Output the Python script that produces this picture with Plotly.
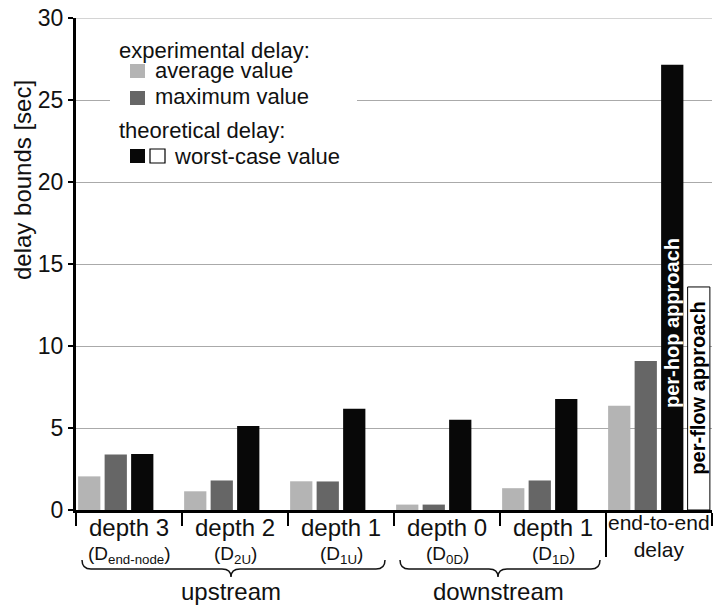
import plotly.graph_objects as go

# categories (one group of bars each)
cats = ["d3_up", "d2_up", "d1_up", "d0_down", "d1_down", "e2e"]
label_top = ["depth 3", "depth 2", "depth 1", "depth 0", "depth 1", ""]
label_sub = ["(D<sub>end-node</sub>)", "(D<sub>2U</sub>)", "(D<sub>1U</sub>)",
             "(D<sub>0D</sub>)", "(D<sub>1D</sub>)", ""]

# delay bounds [sec]
avg_delay = [2.05, 1.14, 1.75, 0.33, 1.33, 6.35]
max_delay = [3.38, 1.80, 1.74, 0.33, 1.80, 9.08]
worst_hop = [3.41, 5.12, 6.18, 5.50, 6.77, 27.15]
worst_flow = [None, None, None, None, None, 13.6]
y_ticks = [0, 5, 10, 15, 20, 25, 30]

FONT = "Liberation Sans, Arial, sans-serif"

# page has an 8px body margin, so shrink the figure to fit the window
OFF = 8
W, H = 723 - OFF, 607 - OFF
# plot area in window pixels
L, R, T, B = 76, 712, 18, 510
def px(x):
    return (x - L) / (R - L)
def py(y):
    return (B - y) / (B - T)

fig = go.Figure()
fig.add_trace(go.Bar(x=cats, y=avg_delay, marker_color="#b4b4b4", marker_line_width=0))
fig.add_trace(go.Bar(x=cats, y=max_delay, marker_color="#666666", marker_line_width=0))
fig.add_trace(go.Bar(x=cats, y=worst_hop, marker_color="#080808", marker_line_width=0))
fig.add_trace(go.Bar(x=cats, y=worst_flow, marker_color="white",
                     marker_line=dict(color="black", width=1)))

annotations = []
shapes = []

def note(x, y, text, size, xref="paper", yref="paper", xanchor="center", **kw):
    d = dict(x=x, y=y, xref=xref, yref=yref, text=text, showarrow=False,
             xanchor=xanchor, yanchor="middle", font=dict(size=size, color="#111"))
    d.update(kw)
    annotations.append(d)

# top gridline (plotly skips the one on the plot edge)
shapes.append(dict(type="line", xref="paper", x0=0, x1=1, yref="y", y0=y_ticks[-1],
                   y1=y_ticks[-1], line=dict(color="#aaaaaa", width=1), layer="below"))

# x labels
for c, t1, t2 in zip(cats, label_top, label_sub):
    if not t1:
        continue
    note(c, py(527), t1, 24, xref="x")
    note(c, py(555), t2, 19, xref="x")
note("e2e", py(536), "end-to-end<br>delay", 21, xref="x")

# braces
def brace(x0, x1, xm, y):
    pts = [(x0, y - 9), (x0, y), (x0 + 9, y), (xm - 9, y), (xm, y), (xm, y + 8),
           (xm, y), (xm + 9, y), (x1 - 9, y), (x1, y), (x1, y - 9)]
    p = [(px(a), py(b)) for a, b in pts]
    return ("M {0[0]},{0[1]} Q {1[0]},{1[1]} {2[0]},{2[1]} L {3[0]},{3[1]} "
            "Q {4[0]},{4[1]} {5[0]},{5[1]} Q {6[0]},{6[1]} {7[0]},{7[1]} "
            "L {8[0]},{8[1]} Q {9[0]},{9[1]} {10[0]},{10[1]}").format(*p)

shapes.append(dict(type="path", xref="paper", yref="paper", path=brace(82, 385, 231, 569),
                   line=dict(color="#111", width=1.5)))
shapes.append(dict(type="path", xref="paper", yref="paper", path=brace(400, 600, 498, 569),
                   line=dict(color="#111", width=1.5)))
note(px(231), py(591), "upstream", 24)
note(px(498), py(591), "downstream", 24)

# longer divider before end-to-end
shapes.append(dict(type="line", xref="x", x0=4.5, x1=4.5, yref="paper", y0=0, y1=py(557),
                   line=dict(color="black", width=2)))

# text inside end-to-end bars
annotations.append(dict(x="e2e", xref="x", xshift=13, y=11.4, yref="y",
                        text="<b>per-hop approach</b>", textangle=-90, showarrow=False,
                        xanchor="center", yanchor="middle",
                        font=dict(size=20, color="white")))
annotations.append(dict(x="e2e", xref="x", xshift=39, y=7.4, yref="y",
                        text="<b>per-flow approach</b>", textangle=-90, showarrow=False,
                        xanchor="center", yanchor="middle",
                        font=dict(size=20, color="black")))

# legend box
shapes.append(dict(type="rect", xref="paper", yref="paper", x0=px(110), x1=px(357),
                   y0=py(175), y1=py(30), fillcolor="white", line_width=0, layer="above"))
def sq(x0, y0, color, border=False):
    return dict(type="rect", xref="paper", yref="paper", x0=px(x0), x1=px(x0 + 15),
                y0=py(y0 + 14), y1=py(y0), fillcolor=color, layer="above",
                line=dict(color="black", width=1.2) if border else dict(width=0))
shapes.append(sq(130, 64, "#b4b4b4"))
shapes.append(sq(130, 91, "#666666"))
shapes.append(sq(130, 149, "#080808"))
shapes.append(sq(150, 149, "white", border=True))
for x, y, t in [(117, 50, "experimental delay:"), (153, 70, "average value"),
                (153, 97, "maximum value"), (117, 130, "theoretical delay:"),
                (172, 156, "worst-case value")]:
    note(px(x), py(y), t, 22, xanchor="left")

# y title
note(px(23), py(180), "delay bounds [sec]", 24, textangle=-90)

fig.update_layout(
    width=W, height=H, autosize=False,
    margin=dict(l=L - OFF, r=723 - R, t=T - OFF, b=607 - B, pad=0),
    plot_bgcolor="white", paper_bgcolor="white",
    font=dict(family=FONT, color="#111"),
    barmode="group", bargap=0, bargroupgap=0.16,
    showlegend=False,
    annotations=annotations, shapes=shapes,
)
fig.update_xaxes(type="category", range=[-0.5, 5.5], showticklabels=False,
                 showgrid=False, showline=True, linecolor="black", linewidth=3,
                 ticks="outside", tickson="boundaries", ticklen=13, tickwidth=2,
                 tickcolor="black", automargin=False)
fig.update_yaxes(range=[0, 30], tickvals=y_ticks,
                 showgrid=True, gridcolor="#aaaaaa", gridwidth=1, zeroline=False,
                 showline=True, linecolor="black", linewidth=3,
                 ticks="outside", ticklen=5, tickwidth=2, tickcolor="black",
                 tickfont=dict(size=23, color="#111"), automargin=False,
                 ticklabeloverflow="allow")

fig.write_html("out.html")
